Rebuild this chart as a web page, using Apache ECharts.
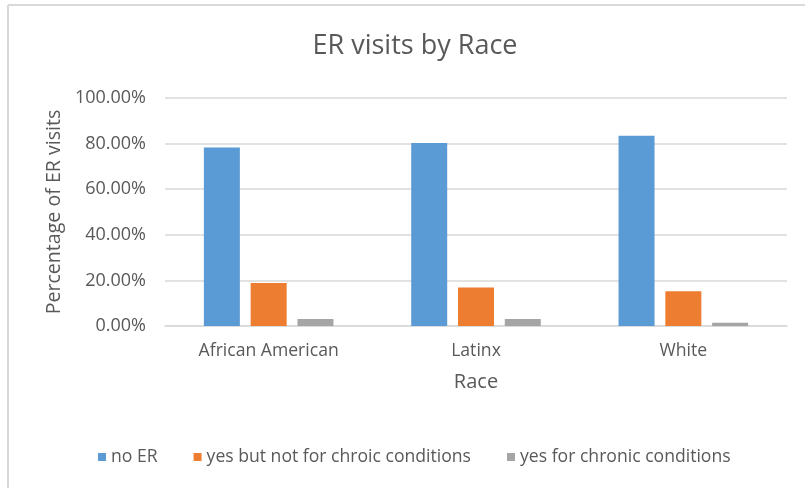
<!DOCTYPE html>
<html>
<head>
<meta charset="utf-8">
<script src="https://cdn.jsdelivr.net/npm/echarts@6/dist/echarts.min.js"></script>
<style>
html,body{margin:0;padding:0;background:#fff;}
#c{width:805px;height:488px;}
</style>
</head>
<body>
<div id="c"></div>
<script>
const categories = ['African American', 'Latinx', 'White'];
const seriesNames = ['no ER', 'yes but not for chroic conditions', 'yes for chronic conditions'];
const noER = [0.783, 0.803, 0.834];
const yesNotChronic = [0.189, 0.169, 0.152];
const yesChronic = [0.031, 0.031, 0.014];
const yTicks = [0, 0.2, 0.4, 0.6, 0.8, 1.0];

const FONT = '"Open Sans"';
const TXT = '#595959';
const chart = echarts.init(document.getElementById('c'), null, {renderer: 'canvas'});
chart.setOption({
  animation: false,
  backgroundColor: '#fff',
  color: ['#5b9bd5', '#ed7d31', '#a5a5a5'],
  title: {
    text: 'ER visits by Race',
    left: 410,
    textAlign: 'center',
    top: 28,
    textStyle: {fontFamily: FONT, fontSize: 27, fontWeight: 'normal', color: TXT}
  },
  legend: {
    data: seriesNames,
    left: 93,
    top: 443,
    itemWidth: 8,
    itemHeight: 8,
    itemGap: 36,
    icon: 'rect',
    textStyle: {fontFamily: FONT, fontSize: 17.6, color: TXT}
  },
  grid: {left: 165, right: 18, top: 98, bottom: 162},
  xAxis: {
    type: 'category',
    data: categories,
    name: 'Race',
    nameLocation: 'middle',
    nameGap: 46,
    nameTextStyle: {fontFamily: FONT, fontSize: 20, color: TXT},
    axisLine: {lineStyle: {color: '#d9d9d9', width: 1.5}},
    axisTick: {show: false},
    axisLabel: {fontFamily: FONT, fontSize: 17.6, color: TXT, margin: 16}
  },
  yAxis: {
    type: 'value',
    min: yTicks[0],
    max: yTicks[yTicks.length - 1],
    interval: yTicks[1] - yTicks[0],
    name: 'Percentage of ER visits',
    nameLocation: 'middle',
    nameGap: 94,
    nameTextStyle: {fontFamily: FONT, fontSize: 19.6, color: TXT},
    axisLine: {show: false},
    axisTick: {show: false},
    axisLabel: {fontFamily: FONT, fontSize: 18, color: TXT, margin: 19,
      formatter: v => (v * 100).toFixed(2) + '%'},
    splitLine: {lineStyle: {color: '#d9d9d9', width: 1.5}}
  },
  series: [
    {name: seriesNames[0], type: 'bar', data: noER, barWidth: 36, barGap: '30%'},
    {name: seriesNames[1], type: 'bar', data: yesNotChronic, barWidth: 36, barGap: '30%'},
    {name: seriesNames[2], type: 'bar', data: yesChronic, barWidth: 36, barGap: '30%'}
  ],
  graphic: [
    {type: 'line', shape: {x1: 8, y1: 5, x2: 805, y2: 5}, style: {stroke: '#d9d9d9', lineWidth: 2}},
    {type: 'line', shape: {x1: 8, y1: 5, x2: 8, y2: 488}, style: {stroke: '#d9d9d9', lineWidth: 2}}
  ]
});
</script>
</body>
</html>
